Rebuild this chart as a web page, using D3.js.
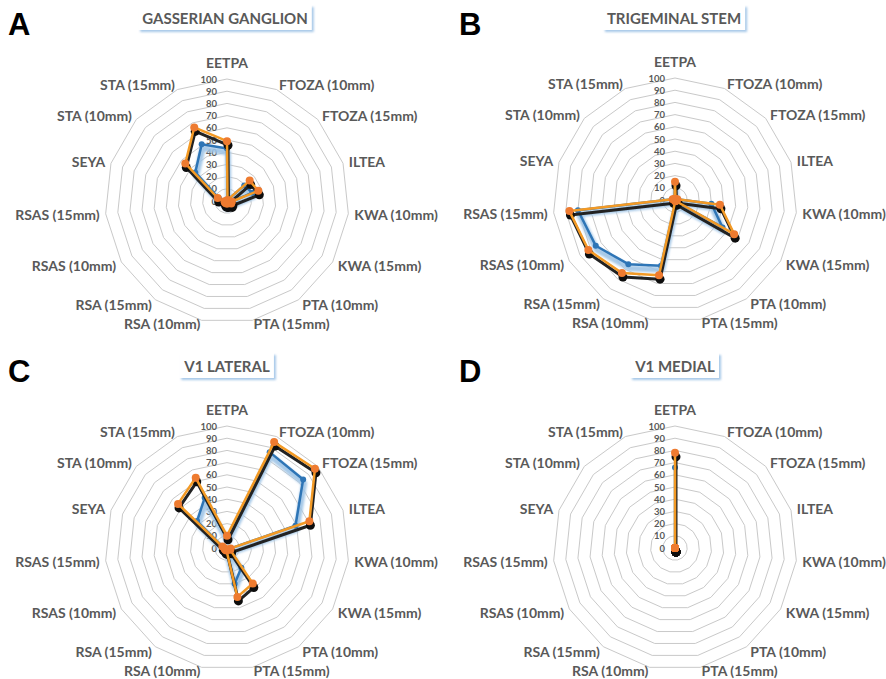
<!DOCTYPE html>
<html>
<head>
<meta charset="utf-8">
<script src="https://cdn.jsdelivr.net/npm/d3@7"></script>
<style>
  body { margin: 0; background: #fff; }
  svg { display: block; font-family: Lato, "Open Sans", sans-serif; }
</style>
</head>
<body>
<svg id="chart" width="886" height="679"></svg>
<script>
// axis names, clockwise from the top
const axes = ['EETPA', 'FTOZA (10mm)', 'FTOZA (15mm)', 'ILTEA', 'KWA (10mm)', 'KWA (15mm)',
  'PTA (10mm)', 'PTA (15mm)', 'RSA (10mm)', 'RSA (15mm)', 'RSAS (10mm)', 'RSAS (15mm)',
  'SEYA', 'STA (10mm)', 'STA (15mm)'];
const ticks = [0, 10, 20, 30, 40, 50, 60, 70, 80, 90, 100];
const letters = ['A', 'B', 'C', 'D'];
const titles = ['GASSERIAN GANGLION', 'TRIGEMINAL STEM', 'V1 LATERAL', 'V1 MEDIAL'];

// values, same order as axes
const blueA = [43, 1, 19, 22, 4, 3, 3, 3, 3, 3, 2, 3, 7, 35, 51];
const orangeA = [49, 1, 25, 27, 4, 4, 2, 2, 2, 2, 2, 2, 8, 46, 66];
const blueB = [12, 1, 1, 2, 30, 45, 2, 2, 55, 65, 75, 80, 2, 1, 1];
const orangeB = [15, 1, 1, 2, 37, 56, 1, 1, 63, 74, 82, 87, 2, 1, 1];
const blueC = [8, 86, 84, 59, 3, 3, 20, 30, 2, 2, 2, 2, 4, 33, 45];
const orangeC = [10, 95, 97, 71, 3, 3, 36, 41, 2, 2, 2, 2, 4, 54, 63];
const blueD = [66, 0, 0, 0, 0, 0, 0, 0, 0, 0, 0, 0, 0, 0, 0];
const orangeD = [78, 0, 0, 0, 0, 0, 0, 0, 0, 0, 0, 0, 0, 0, 0];

const panels = [
  { blue: blueA, orange: orangeA, cx: 227, cy: 201, tx: 225, ty: 18 },
  { blue: blueB, orange: orangeB, cx: 675, cy: 200, tx: 674, ty: 18 },
  { blue: blueC, orange: orangeC, cx: 227, cy: 548, tx: 227, ty: 366 },
  { blue: blueD, orange: orangeD, cx: 675, cy: 548, tx: 675, ty: 366 }
];
const letterPos = [[8, 35], [459, 35], [8, 382], [459, 382]];

const svg = d3.select('#chart');
const defs = svg.append('defs');
defs.append('filter').attr('id', 'titleShadow')
  .attr('x', '-10%').attr('y', '-30%').attr('width', '130%').attr('height', '180%')
  .append('feDropShadow')
  .attr('dx', 2).attr('dy', 2).attr('stdDeviation', 1)
  .attr('flood-color', '#9dc3e6').attr('flood-opacity', 0.9);
defs.append('filter').attr('id', 'blurBlue')
  .append('feGaussianBlur').attr('stdDeviation', 1.2);
defs.append('filter').attr('id', 'blurBlack')
  .append('feGaussianBlur').attr('stdDeviation', 0.6);

const r = d3.scaleLinear().domain([0, 100]).range([0, 122]);
const angle = d3.scaleLinear().domain([0, axes.length]).range([0, 2 * Math.PI]);

const radar = d3.lineRadial()
  .angle((d, i) => angle(i))
  .radius(d => r(d))
  .curve(d3.curveLinearClosed);

panels.forEach((p, k) => {
  // panel letter
  svg.append('text')
    .attr('x', letterPos[k][0]).attr('y', letterPos[k][1])
    .attr('font-family', '"Liberation Sans", Arial, sans-serif')
    .attr('font-weight', 700).attr('font-size', 31)
    .attr('fill', '#000')
    .text(letters[k]);

  // title with its shadowed box
  const title = svg.append('g');
  const tt = title.append('text')
    .attr('x', p.tx).attr('y', p.ty)
    .attr('text-anchor', 'middle').attr('dominant-baseline', 'central')
    .attr('font-weight', 700).attr('font-size', 15)
    .attr('fill', '#595959')
    .text(titles[k]);
  const bb = tt.node().getBBox();
  title.insert('rect', 'text')
    .attr('x', bb.x - 4).attr('y', p.ty - 13)
    .attr('width', bb.width + 8).attr('height', 25)
    .attr('fill', '#fff')
    .attr('filter', 'url(#titleShadow)');

  const g = svg.append('g')
    .attr('transform', 'translate(' + p.cx + ',' + p.cy + ')');

  // grid polygons
  g.append('g').selectAll('path')
    .data(ticks.filter(t => t > 0))
    .join('path')
    .attr('d', t => radar(axes.map(() => t)))
    .attr('fill', 'none')
    .attr('stroke', '#c9c9c9')
    .attr('stroke-width', 1);

  // value labels on the top spoke
  g.append('g').selectAll('text')
    .data(ticks)
    .join('text')
    .attr('x', -10)
    .attr('y', t => -r(t))
    .attr('text-anchor', 'end')
    .attr('dominant-baseline', 'central')
    .attr('font-size', 9.5).attr('font-weight', 700)
    .attr('fill', '#595959')
    .text(t => t);

  // axis labels
  g.append('g').selectAll('text')
    .data(axes)
    .join('text')
    .each(function(d, i) {
      const a = angle(i);
      const [x, y] = d3.pointRadial(a, 128);
      const s = Math.sin(a);
      let dy = 0;
      if (i === 0) dy = -5;
      else if (Math.cos(a) < -0.9) dy = -3;
      d3.select(this)
        .attr('x', x)
        .attr('y', y + dy)
        .attr('text-anchor', Math.abs(s) < 0.01 ? 'middle' : (s > 0 ? 'start' : 'end'))
        .attr('dominant-baseline', i === 0 ? 'auto' : 'central');
    })
    .attr('font-size', 14).attr('font-weight', 700)
    .attr('fill', '#595959')
    .text(d => d);

  // blue series with its soft light-blue shadow
  const bs = g.append('g').attr('transform', 'translate(1,4)').attr('filter', 'url(#blurBlue)');
  bs.append('path')
    .attr('d', radar(p.blue))
    .attr('fill', 'none').attr('stroke', '#9dc3e6')
    .attr('stroke-width', 6).attr('stroke-linejoin', 'round').attr('opacity', 0.9);
  g.append('path')
    .attr('d', radar(p.blue))
    .attr('fill', 'none').attr('stroke', '#2e75b6')
    .attr('stroke-width', 2.5).attr('stroke-linejoin', 'round');
  g.append('g').selectAll('circle')
    .data(p.blue)
    .join('circle')
    .attr('cx', (d, i) => d3.pointRadial(angle(i), r(d))[0])
    .attr('cy', (d, i) => d3.pointRadial(angle(i), r(d))[1])
    .attr('r', 3)
    .attr('fill', '#2e75b6');

  // orange series with its dark shadow
  const os = g.append('g').attr('transform', 'translate(1,4)').attr('filter', 'url(#blurBlack)');
  os.append('path')
    .attr('d', radar(p.orange))
    .attr('fill', 'none').attr('stroke', '#222')
    .attr('stroke-width', 3).attr('stroke-linejoin', 'round');
  os.selectAll('circle')
    .data(p.orange)
    .join('circle')
    .attr('cx', (d, i) => d3.pointRadial(angle(i), r(d))[0])
    .attr('cy', (d, i) => d3.pointRadial(angle(i), r(d))[1])
    .attr('r', 4.5)
    .attr('fill', '#111');
  g.append('path')
    .attr('d', radar(p.orange))
    .attr('fill', 'none').attr('stroke', '#f39a25')
    .attr('stroke-width', 2.5).attr('stroke-linejoin', 'round');
  g.append('g').selectAll('circle')
    .data(p.orange)
    .join('circle')
    .attr('cx', (d, i) => d3.pointRadial(angle(i), r(d))[0])
    .attr('cy', (d, i) => d3.pointRadial(angle(i), r(d))[1])
    .attr('r', 4)
    .attr('fill', '#ee7b30');
});
</script>
</body>
</html>
